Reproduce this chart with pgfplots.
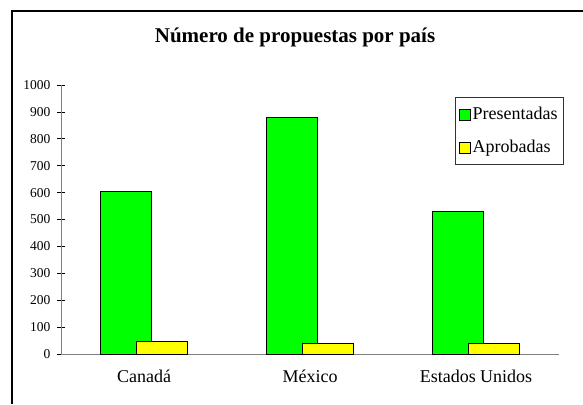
\documentclass[border=0pt]{standalone}
\usepackage{fontspec}
\setmainfont{Liberation Serif}
\usepackage{pgfplots}
\pgfplotsset{compat=1.18}
\definecolor{bargreen}{RGB}{0,255,0}
\definecolor{baryellow}{RGB}{255,255,0}
\definecolor{axgray}{RGB}{128,128,128}
\begin{document}
\begin{tikzpicture}[x=1bp,y=1bp]
\useasboundingbox (0,0) rectangle (583,404);
\draw[line width=2bp] (12,0) -- (12,393) -- (583,393);
\begin{axis}[
  at={(61bp,50bp)}, anchor=south west,
  scale only axis, width=498bp, height=269bp,
  xmin=-0.5, xmax=2.5, ymin=0, ymax=1000,
  axis lines=left, axis line style={-, draw=axgray, line width=0.8bp},
  xtick={0,1,2}, xticklabels={Canadá,México,Estados Unidos},
  x tick style={draw=none},
  x tick label style={font=\fontsize{18bp}{20bp}\selectfont, yshift=-8bp},
  extra x ticks={-0.5,0.5,1.5,2.5}, extra x tick labels={},
  extra x tick style={tick align=center, major tick length=12bp, tick style={black, line width=0.8bp}},
  ytick={0,100,...,1000},
  y tick style={black, line width=0.8bp},
  tick align=center, major tick length=8bp,
  y tick label style={font=\fontsize{13.5bp}{15bp}\selectfont, xshift=-3bp},
  /pgf/number format/assume math mode=true,
  /pgf/number format/1000 sep={},
  title={\textbf{Número de propuestas por país}},
  title style={font=\fontsize{21bp}{24bp}\selectfont, at={(rel axis cs:0.47,1.135)}, anchor=base},
  legend style={at={(rel axis cs:1.010,0.955)}, anchor=north east,
    font=\fontsize{18bp}{20bp}\selectfont, draw=black!80, line width=0.8bp,
    row sep=15bp, inner xsep=4bp, inner ysep=8bp, legend cell align=left},
  legend image code/.code={\draw[#1, line width=0.6bp] (4bp,-5.5bp) rectangle (15bp,5.5bp);},
]
\addplot[ybar, bar width=0.31, bar shift=0pt, fill=bargreen, draw=black, line width=0.6bp]
  coordinates {(-0.11,603) (0.89,880) (1.89,530)};
\addlegendentry{Presentadas}
\addplot[ybar, bar width=0.31, bar shift=0pt, fill=baryellow, draw=black, line width=0.6bp]
  coordinates {(0.108,48) (1.108,38) (2.108,38)};
\addlegendentry{Aprobadas}
\end{axis}
\end{tikzpicture}
\end{document}
